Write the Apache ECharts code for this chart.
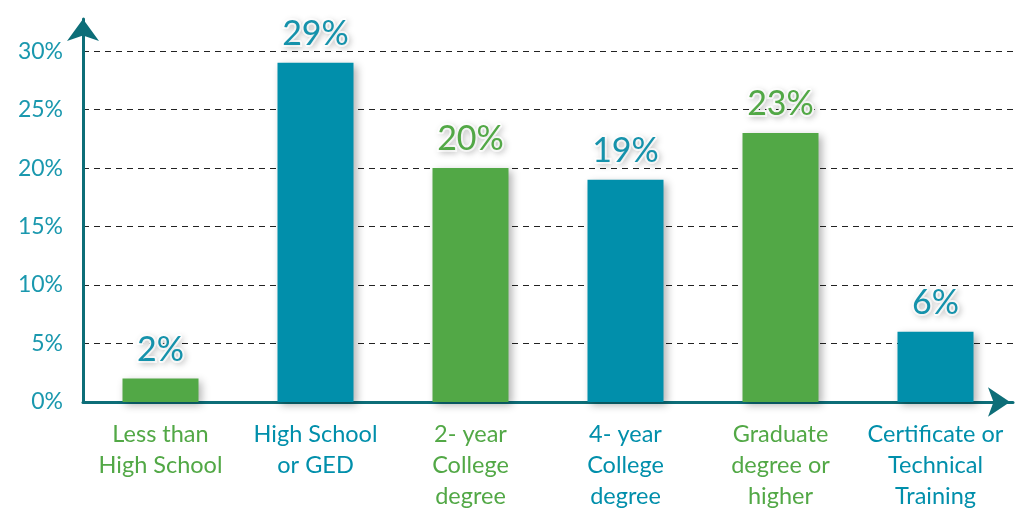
<!DOCTYPE html>
<html>
<head>
<meta charset="utf-8">
<script src="https://cdn.jsdelivr.net/npm/echarts@6/dist/echarts.min.js"></script>
<style>
html, body { margin: 0; padding: 0; background: #fff; }
#main { width: 1018px; height: 513px; }
</style>
</head>
<body>
<div id="main"></div>
<script>
// data
var categories = ['Less than\nHigh School', 'High School\nor GED', '2- year\nCollege\ndegree', '4- year\nCollege\ndegree', 'Graduate\ndegree or\nhigher', 'Certificate or\nTechnical\nTraining'];
var values = [2, 29, 20, 19, 23, 6];
var barColors = ['#52a846', '#018fab', '#52a846', '#018fab', '#52a846', '#018fab'];
var labelColors = ['#1592ab', '#1592ab', '#52a846', '#1592ab', '#52a846', '#1592ab'];
var yTicks = [0, 5, 10, 15, 20, 25, 30];

var FONT = 'Lato';
var myChart = echarts.init(document.getElementById('main'));

var catData = categories.map(function (c, i) {
    return { value: c, textStyle: { color: barColors[i] } };
});
var barData = values.map(function (v, i) {
    return {
        value: v,
        itemStyle: { color: barColors[i] },
        label: { color: labelColors[i] }
    };
});

option = {
    animation: false,
    grid: { left: 83, top: 19, width: 930, bottom: 111, containLabel: false },
    xAxis: {
        type: 'category',
        data: catData,
        axisLine: {
            show: true,
            symbol: ['none', 'arrow'],
            symbolSize: [22, 22],
            symbolOffset: [0, -3],
            lineStyle: { color: '#0d6e78', width: 3 }
        },
        axisTick: { show: false },
        axisLabel: {
            fontFamily: FONT,
            fontSize: 23.5,
            lineHeight: 31,
            margin: 17,
            interval: 0
        }
    },
    yAxis: {
        type: 'value',
        min: 0,
        max: 32.75,
        interval: 5,
        axisLine: {
            show: true,
            symbol: ['none', 'arrow'],
            symbolSize: [24, 22],
            lineStyle: { color: '#0d6e78', width: 3 }
        },
        axisTick: { show: false },
        axisLabel: {
            showMaxLabel: false,
            color: '#1a98ae',
            fontFamily: FONT,
            fontSize: 23,
            margin: 20,
            formatter: function (v) {
                return yTicks.indexOf(v) >= 0 ? v + '%' : '';
            }
        },
        splitLine: {
            show: true,
            showMaxLine: false,
            lineStyle: { color: '#222', type: [6, 5], width: 1 }
        }
    },
    series: [
        {
            type: 'bar',
            barWidth: 76,
            data: barData,
            itemStyle: {
                shadowBlur: 8,
                shadowColor: 'rgba(0,0,0,0.3)',
                shadowOffsetX: 3,
                shadowOffsetY: 3
            },
            label: {
                show: true,
                position: 'top',
                distance: 12,
                fontFamily: FONT,
                fontSize: 34,
                formatter: '{c}%',
                textBorderColor: '#fff',
                textBorderWidth: 4,
                textShadowColor: 'rgba(0,0,0,0.15)',
                textShadowBlur: 6,
                textShadowOffsetX: 2,
                textShadowOffsetY: 2
            }
        }
    ]
};
if (option && typeof option === "object") {
    myChart.setOption(option, true);
}
</script>
</body>
</html>
